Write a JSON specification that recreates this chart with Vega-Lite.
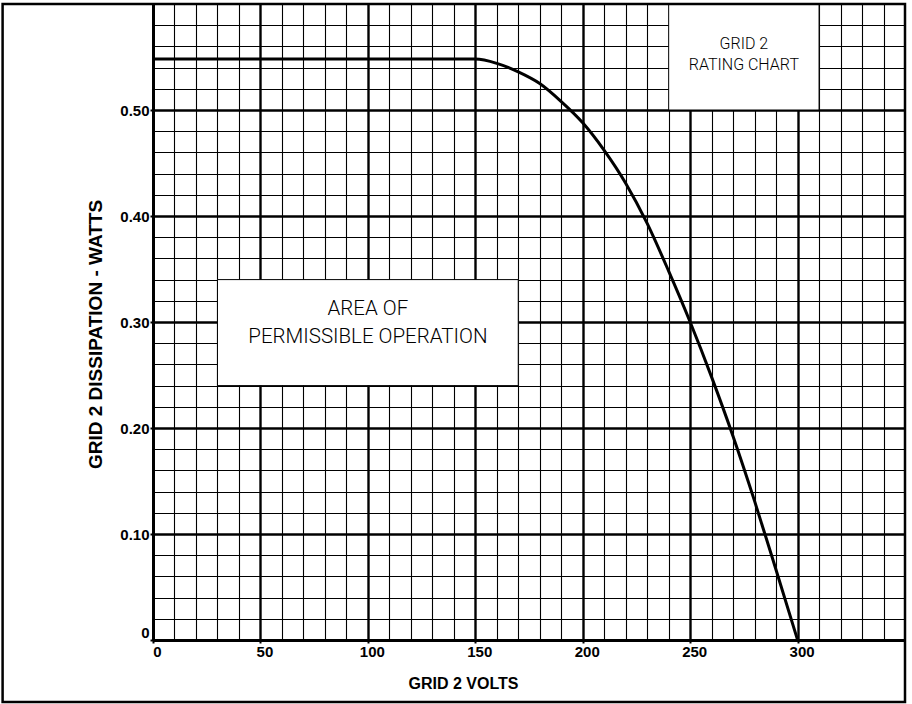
{
  "$schema": "https://vega.github.io/schema/vega-lite/v6.json",
  "width": 752,
  "height": 636,
  "autosize": {"type": "none"},
  "padding": {"left": 153, "top": 4, "right": 7, "bottom": 64},
  "background": "white",
  "config": {
    "view": {"stroke": "black", "strokeWidth": 2},
    "font": "Liberation Sans"
  },
  "datasets": {
    "curve": [
      {"volts": 0, "watts": 0.548},
      {"volts": 150, "watts": 0.548},
      {"volts": 160, "watts": 0.544},
      {"volts": 170, "watts": 0.536},
      {"volts": 180, "watts": 0.525},
      {"volts": 190, "watts": 0.508},
      {"volts": 200, "watts": 0.488},
      {"volts": 210, "watts": 0.462},
      {"volts": 220, "watts": 0.431},
      {"volts": 230, "watts": 0.393},
      {"volts": 240, "watts": 0.348},
      {"volts": 250, "watts": 0.30},
      {"volts": 260, "watts": 0.248},
      {"volts": 270, "watts": 0.192},
      {"volts": 280, "watts": 0.131},
      {"volts": 290, "watts": 0.066},
      {"volts": 300, "watts": 0}
    ],
    "boxes": [
      {"box": "area", "v1": 30, "v2": 170, "w1": 0.24, "w2": 0.34},
      {"box": "rating", "v1": 240, "v2": 310, "w1": 0.50, "w2": 0.60}
    ],
    "labels": [
      {"box": "area", "text": "AREA OF", "volts": 100, "watts": 0.312},
      {"box": "area", "text": "PERMISSIBLE OPERATION", "volts": 100, "watts": 0.286},
      {"box": "rating", "text": "GRID 2", "volts": 275, "watts": 0.562},
      {"box": "rating", "text": "RATING CHART", "volts": 275, "watts": 0.5425}
    ]
  },
  "layer": [
    {
      "data": {"name": "boxes"},
      "mark": {"type": "rect", "fill": "white", "stroke": "black", "strokeWidth": 1},
      "encoding": {
        "x": {
          "field": "v1", "type": "quantitative",
          "scale": {"domain": [0, 350], "nice": false, "zero": false},
          "axis": {
            "values": [0,10,20,30,40,50,60,70,80,90,100,110,120,130,140,150,160,170,180,190,200,210,220,230,240,250,260,270,280,290,300,310,320,330,340],
            "tickCount": 100,
            "grid": true,
            "gridColor": "black",
            "gridOpacity": 1,
            "gridWidth": {"condition": {"test": "datum.value % 50 === 0", "value": 2.4}, "value": 1.1},
            "labelExpr": "datum.value % 50 === 0 && datum.value <= 300 ? datum.label : ''",
            "labelFont": "Liberation Sans",
            "labelFontWeight": "bold",
            "labelFontSize": 15,
            "labelColor": "black",
            "labelOffset": 4,
            "labelPadding": 1,
            "labelFlush": false,
            "labelOverlap": false,
            "ticks": true,
            "tickSize": 3,
            "tickColor": "black",
            "tickWidth": 2,
            "tickOpacity": {"condition": {"test": "datum.value % 50 === 0", "value": 1}, "value": 0},
            "domain": true,
            "domainColor": "black",
            "domainWidth": 3,
            "title": "GRID 2 VOLTS",
            "titleFont": "Liberation Sans",
            "titleFontWeight": "bold",
            "titleFontSize": 16,
            "titleColor": "black",
            "titleX": 310,
            "titleY": 43,
            "titleAlign": "center",
            "titleBaseline": "middle"
          }
        },
        "x2": {"field": "v2"},
        "y": {
          "field": "w1", "type": "quantitative",
          "scale": {"domain": [0, 0.6], "nice": false, "zero": false},
          "axis": {
            "values": [0,0.02,0.04,0.06,0.08,0.1,0.12,0.14,0.16,0.18,0.2,0.22,0.24,0.26,0.28,0.3,0.32,0.34,0.36,0.38,0.4,0.42,0.44,0.46,0.48,0.5,0.52,0.54,0.56,0.58],
            "tickCount": 100,
            "grid": true,
            "gridColor": "black",
            "gridOpacity": 1,
            "gridWidth": {"condition": {"test": "round(datum.value * 50) % 5 === 0", "value": 2.4}, "value": 1.1},
            "labelExpr": "round(datum.value * 50) % 5 === 0 ? (datum.value === 0 ? '0' : format(datum.value, '.2f')) : ''",
            "labelFont": "Liberation Sans",
            "labelFontWeight": "bold",
            "labelFontSize": 15,
            "labelColor": "black",
            "labelPadding": 1,
            "labelFlush": false,
            "labelOverlap": false,
            "labelBaseline": {"condition": {"test": "datum.value === 0", "value": "bottom"}, "value": "middle"},
            "ticks": true,
            "tickSize": 3,
            "tickColor": "black",
            "tickWidth": 2,
            "tickOpacity": {"condition": {"test": "round(datum.value * 50) % 5 === 0", "value": 1}, "value": 0},
            "domain": true,
            "domainColor": "black",
            "domainWidth": 3,
            "title": "GRID 2 DISSIPATION - WATTS",
            "titleFont": "Liberation Sans",
            "titleFontWeight": "bold",
            "titleFontSize": 19,
            "titleColor": "black",
            "titleX": -58,
            "titleY": 330,
            "titleAlign": "center",
            "titleBaseline": "middle",
            "titleAngle": -90
          }
        },
        "y2": {"field": "w2"}
      }
    },
    {
      "data": {"name": "labels"},
      "transform": [{"filter": "datum.box === 'area'"}],
      "mark": {"type": "text", "font": "Roboto", "fontWeight": 300, "fontSize": 20.5, "color": "black", "align": "center", "baseline": "middle"},
      "encoding": {
        "x": {"field": "volts", "type": "quantitative"},
        "y": {"field": "watts", "type": "quantitative"},
        "text": {"field": "text"}
      }
    },
    {
      "data": {"name": "labels"},
      "transform": [{"filter": "datum.box === 'rating'"}],
      "mark": {"type": "text", "font": "Roboto", "fontWeight": 300, "fontSize": 16, "color": "black", "align": "center", "baseline": "middle"},
      "encoding": {
        "x": {"field": "volts", "type": "quantitative"},
        "y": {"field": "watts", "type": "quantitative"},
        "text": {"field": "text"}
      }
    },
    {
      "data": {"name": "curve"},
      "mark": {"type": "line", "color": "black", "strokeWidth": 3, "interpolate": "monotone"},
      "encoding": {
        "x": {"field": "volts", "type": "quantitative"},
        "y": {"field": "watts", "type": "quantitative"}
      }
    },
    {
      "data": {"values": [{}]},
      "mark": {"type": "rect", "filled": false, "stroke": "black", "strokeWidth": 2.5, "clip": false},
      "encoding": {
        "x": {"datum": -70, "type": "quantitative"},
        "x2": {"datum": 350},
        "y": {"datum": -0.0585, "type": "quantitative"},
        "y2": {"datum": 0.6}
      }
    }
  ]
}
